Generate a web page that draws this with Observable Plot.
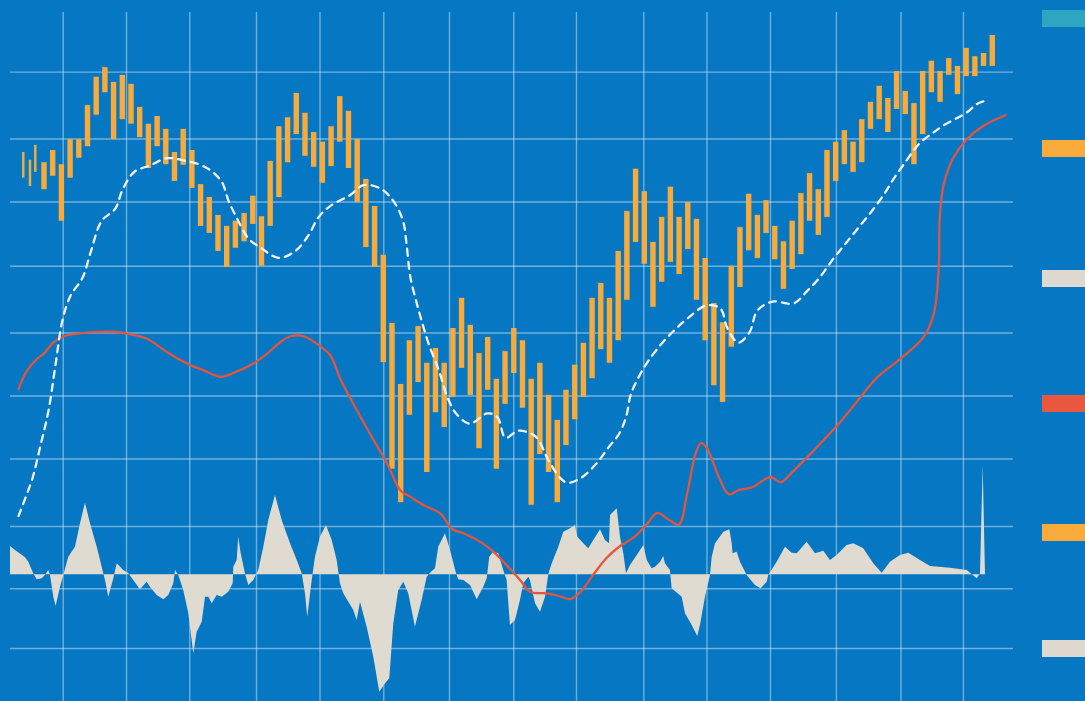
<!DOCTYPE html>
<html><head><meta charset="utf-8">
<script src="https://cdn.jsdelivr.net/npm/d3@7"></script>
<script src="https://cdn.jsdelivr.net/npm/@observablehq/plot@0.6"></script>
<style>
html,body{margin:0;padding:0;background:#0677c2;overflow:hidden}
#wrap{position:relative;width:1085px;height:701px}
.sw{position:absolute;left:1042px;width:43px;height:17px}
</style></head><body><div id="wrap"></div>
<script>
// Range bars (session index 0..109): high / low
const barHigh = [75.9,77.8,75.6,79.5,79.5,84.8,89.2,90.7,88.4,89.5,
 88.1,84.5,81.9,83.1,81.1,77.5,81.1,77.8,72.5,70.5,
 67.7,66.0,66.8,68.0,70.7,67.5,76.1,81.5,82.9,86.7,
 83.6,80.6,79.1,81.5,86.2,83.9,79.5,73.3,69.1,61.5,
 50.9,41.4,48.2,50.4,44.7,47.0,44.7,50.1,54.8,50.6,
 46.2,48.7,42.2,46.5,50.1,48.2,42.2,44.7,39.7,35.8,
 40.5,44.4,47.8,54.8,57.1,54.8,62.1,68.3,74.9,71.4,
 63.5,67.4,72.1,67.4,69.7,67.1,61.0,54.0,51.0,59.8,
 65.8,71.0,67.7,70.0,66.0,63.6,66.8,71.1,74.2,71.7,
 77.8,79.1,80.9,79.1,82.6,85.3,87.8,85.9,90.1,87.0,
 85.1,90.1,91.7,90.1,92.1,90.9,93.7,92.4,92.9,95.7];
const barLow = [71.7,73.8,66.8,73.5,76.6,78.4,83.3,86.8,79.5,82.6,
 81.9,79.8,75.0,78.4,75.6,73.0,75.5,71.9,66.0,64.9,
 62.1,59.6,62.6,63.6,66.3,59.8,66.0,70.5,75.9,80.3,
 76.9,75.2,72.7,75.3,79.1,75.0,69.7,62.7,59.6,44.8,
 28.2,23.0,36.6,41.7,27.7,37.0,34.7,39.4,43.9,39.7,
 31.4,40.5,28.2,38.3,43.1,37.7,22.6,30.5,27.7,23.0,
 31.9,35.9,39.4,42.3,46.8,44.7,48.2,54.5,63.5,60.1,
 53.4,57.3,60.4,58.5,62.4,54.5,48.2,41.2,38.6,47.2,
 56.5,62.2,61.0,64.9,60.8,56.2,59.3,61.6,66.8,64.6,
 67.4,73.0,75.6,74.4,75.9,81.1,82.6,80.6,84.2,83.4,
 75.6,80.3,86.8,85.3,89.5,86.5,89.3,89.3,90.9,90.9];
// Early thin ticks
const tickT = [-2.38,-1.61,-1.0];
const tickHigh = [77.5,76.3,78.6];
const tickLow = [73.5,72.2,74.4];

// Moving average (dashed)
const maT = [-2.99,-2.18,-1.38,-0.46,0.46,1.26,2.07,2.99,4.37,5.29,6.55,8.16,8.97,10.34,12.18,14.02,15.86,18.51,20.34,21.15,22.07,23.45,24.83,26.90,28.85,30.34,31.49,32.87,35.06,36.67,38.62,40.23,41.26,41.61,42.07,42.76,43.33,44.14,45.40,46.32,47.24,48.85,50.92,52.07,52.99,54.48,56.44,57.93,59.31,60.11,61.61,63.45,64.83,66.09,66.90,67.36,68.28,69.43,71.03,72.53,74.02,76.09,77.70,78.51,79.77,81.03,81.95,83.68,86.09,87.70,89.08,90.69,92.07,93.56,95.17,96.55,97.70,98.85,100.57,102.07,103.33,105.98,107.24,108.39];
const maV = [20.9,23.8,26.8,31.9,37.3,44.4,51.4,55.2,58.0,61.9,66.8,68.8,71.7,74.5,75.5,76.6,76.3,75.2,73.0,70.0,67.4,64.1,62.7,61.1,62.2,64.6,67.4,69.2,70.8,72.4,71.9,69.7,66.6,63.3,58.0,54.2,51.4,47.8,43.3,39.4,37.0,35.3,36.9,36.3,33.1,34.2,33.3,29.6,26.8,26.1,26.8,29.1,31.6,33.8,36.6,39.7,42.5,45.1,47.9,50.0,51.8,53.7,53.2,50.1,47.9,49.5,52.9,54.3,54.0,56.0,58.0,61.0,63.3,65.8,68.5,71.1,73.6,75.8,78.9,80.5,81.7,83.7,85.1,85.6];

// Red signal line
const sigT = [-2.99,-1.99,-0.84,-0.08,1.07,2.22,3.76,7.59,9.51,11.80,14.10,16.78,18.31,20.23,21.76,24.06,25.60,27.13,28.28,29.80,31.34,32.87,34.02,35.94,37.85,39.39,40.92,42.07,43.60,45.52,46.86,48.20,50.11,51.64,53.18,54.71,55.86,57.78,59.31,60.46,61.61,63.14,64.68,66.21,67.74,69.28,70.43,71.72,72.91,73.87,74.83,75.48,76.17,77.51,78.66,79.80,81.34,83.45,84.60,86.13,88.05,91.11,93.79,95.71,98.39,101.07,102.22,102.79,102.91,103.37,104.52,106.06,107.97,110.46];
const sigV = [40.7,43.6,45.4,46.2,48.0,48.9,49.3,49.6,49.3,48.5,46.4,44.4,43.6,42.6,43.2,44.7,46.2,48.0,48.9,48.9,47.7,45.9,42.2,37.3,32.7,29.1,24.9,23.9,22.6,21.3,18.9,18.2,16.9,15.3,13.2,10.9,9.1,8.9,8.4,8.0,9.1,11.9,14.5,16.3,17.6,19.7,21.4,20.4,19.6,24.4,30.6,32.3,31.4,27.0,24.3,25.0,25.4,27.0,26.2,28.0,30.6,35.0,39.4,42.5,45.4,48.8,52.4,59.6,67.4,72.6,76.8,79.6,81.7,83.3];

// Oscillator (area around its zero level)
const oscZero = 11.78;
const oscT = [-3.91,-3.33,-2.18,-1.80,-1.24,-0.84,-0.26,0.11,0.49,0.69,1.07,1.34,1.84,2.22,2.79,3.56,4.14,4.71,5.29,6.06,6.63,7.01,7.39,7.97,8.36,9.11,9.69,10.26,11.03,11.80,12.18,12.95,13.71,14.29,14.86,15.06,15.44,16.01,16.59,17.16,17.55,18.13,18.51,18.89,19.28,19.85,20.43,21.18,21.69,21.76,22.15,22.33,22.61,23.10,23.48,24.06,24.63,25.21,25.78,26.55,27.32,28.28,29.05,29.62,30.00,30.26,30.77,31.15,31.72,32.41,33.07,33.64,34.02,34.40,35.55,35.94,36.32,37.09,37.85,38.54,39.20,39.69,40.15,40.72,41.30,41.87,42.64,43.41,43.99,44.37,44.94,45.32,46.09,46.67,47.36,47.62,48.20,48.97,49.74,50.49,50.89,51.18,51.64,52.22,52.79,53.18,53.56,54.14,54.71,55.09,55.67,55.86,56.44,57.01,57.59,57.97,58.36,59.12,59.69,60.46,61.03,61.30,61.99,62.56,63.14,63.91,64.48,64.94,65.06,65.83,66.21,66.59,66.90,67.36,68.13,68.51,68.89,69.28,69.85,70.24,70.82,71.18,71.38,71.95,72.15,73.30,73.68,74.45,75.09,75.40,75.98,76.55,76.75,77.13,78.09,78.78,79.05,79.14,79.62,80.00,80.77,81.72,82.38,83.07,83.25,84.22,85.17,85.94,86.52,87.67,88.62,89.58,90.34,91.11,92.26,93.02,94.17,95.32,96.29,97.24,98.39,99.35,100.69,101.84,104.14,106.06,107.21,107.59,107.90,108.16];
const oscV = [4.40,3.78,2.65,1.96,0.16,-0.78,-0.62,-0.11,0.67,-0.11,-3.49,-4.93,-1.93,-0.11,2.74,4.30,7.94,11.14,7.94,4.30,1.18,-0.89,-3.49,-0.62,1.71,0.67,0.16,-0.89,-2.33,-1.15,-1.93,-3.22,-3.89,-3.22,-1.40,0.67,-0.11,-2.44,-6.07,-12.29,-8.93,-7.38,-3.49,-3.49,-4.51,-3.22,-3.49,-2.71,-1.40,1.18,2.23,5.85,3.27,0.16,-1.67,-0.89,0.67,4.30,8.45,12.34,8.45,4.82,2.23,0.16,-2.96,-6.60,-0.89,2.74,5.85,7.67,5.34,2.23,-1.40,-2.96,-5.56,-7.11,-4.26,-8.15,-12.82,-18.27,-16.96,-16.18,-7.63,-2.44,-1.15,-2.96,-8.15,-4.00,-0.37,0.25,0.93,4.30,6.38,3.78,0.16,-0.78,-0.89,-1.67,-3.89,-1.93,-0.62,2.74,3.52,3.27,0.67,-0.89,-7.89,-7.11,-4.00,-1.40,-0.37,-0.89,-4.51,-5.82,-3.49,0.05,1.71,4.30,6.63,7.16,7.67,5.85,4.82,4.05,5.34,7.00,5.34,4.82,9.23,10.27,5.85,3.27,0.16,1.45,3.00,3.78,4.56,2.23,0.93,1.18,1.96,2.85,1.71,0.67,-2.18,-3.49,-6.07,-7.89,-9.60,-7.89,-3.49,-0.11,2.74,4.82,6.63,7.00,4.82,3.27,3.52,1.96,-0.11,-1.67,-2.18,-1.15,-0.11,1.96,4.30,3.36,3.27,5.07,3.27,3.67,2.23,3.00,4.56,4.82,4.05,1.71,0.25,1.96,3.00,3.36,2.23,1.29,1.03,0.67,-0.62,0.16,17.01,0.16];

// Grid positions
const xTicks = [2.15,9.43,16.70,24.37,31.67,39.0,46.55,53.94,61.15,68.89,76.15,83.45,91.03,98.45,105.63];
const yTicks = [0.3,9.6,19.3,29.8,39.6,49.4,59.8,69.8,79.6,90.0];
const xDomain = [-5.057, 119.66];
const yDomain = [-7.94, 101.15];
const gridX = [-3.91, 111.38];
const gridYTop = 99.28;

// Legend swatch colours
const legendColors = ["#2ea6c1","#f8ab3b","#dfdacf","#e9573e","#f8ab3b","#dfdacf"];
const legendTops = [10,140,270,395,524,640];

const bars = barHigh.map((h,i)=>({t:i, high:h, low:barLow[i]}));
const ticks = tickT.map((t,i)=>({t, high:tickHigh[i], low:tickLow[i]}));
const ma = maT.map((t,i)=>({t, v:maV[i]}));
const sig = sigT.map((t,i)=>({t, v:sigV[i]}));
const osc = oscT.map((t,i)=>({t, v:oscV[i]}));

const grid = "rgba(255,255,255,0.42)";
const chart = Plot.plot({
  width: 1085, height: 701,
  marginTop: 0, marginRight: 0, marginBottom: 0, marginLeft: 0,
  x: {domain: xDomain, axis: null},
  y: {domain: yDomain, axis: null},
  style: {background: "transparent", overflow: "visible"},
  marks: [
    Plot.ruleY(yTicks, {x1: gridX[0], x2: gridX[1], stroke: grid, strokeWidth: 1.4}),
    Plot.ruleX(xTicks, {y1: yDomain[0], y2: gridYTop, stroke: grid, strokeWidth: 1.4}),
    Plot.areaY(osc, {x: "t", y1: oscZero, y2: d => oscZero + d.v, fill: "#e0dbd0"}),
    Plot.rect(bars, {x1: d => d.t - 0.31, x2: d => d.t + 0.31, y1: "low", y2: "high", fill: "#f8ab3b"}),
    Plot.rect(ticks, {x1: d => d.t - 0.14, x2: d => d.t + 0.14, y1: "low", y2: "high", fill: "#f8ab3b"}),
    Plot.line(sig, {x: "t", y: "v", stroke: "#e5543c", strokeWidth: 2.3, curve: "catmull-rom"}),
    Plot.line(ma, {x: "t", y: "v", stroke: "#f2f2f2", strokeWidth: 2.3, strokeDasharray: "7,6", curve: "catmull-rom"})
  ]
});
const wrap = document.getElementById("wrap");
wrap.appendChild(chart);
legendColors.forEach((c,i)=>{
  const d = document.createElement("div");
  d.className = "sw"; d.style.top = legendTops[i] + "px"; d.style.background = c;
  wrap.appendChild(d);
});
</script></body></html>
